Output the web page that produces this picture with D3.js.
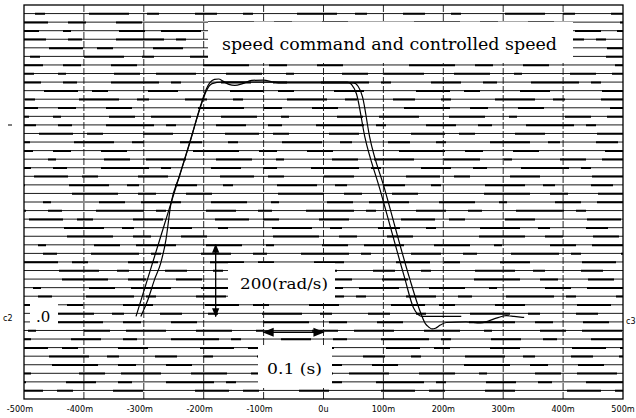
<!DOCTYPE html>
<html>
<head>
<meta charset="utf-8">
<script src="https://cdn.jsdelivr.net/npm/d3@7"></script>
<style>
  body { margin: 0; background: #fff; }
</style>
</head>
<body>
<div id="chart"></div>
<script>
const width = 636;
const height = 418;

// time axis in ms, labels as printed on the scope
const timeTicks = [-500, -400, -300, -200, -100, 0, 100, 200, 300, 400, 500];
const tickLabels = ["-500m", "-400m", "-300m", "-200m", "-100m", "0u", "100m", "200m", "300m", "400m", "500m"];

// speed command (rad/s) over time (ms)
const commandTime  = [-313, -290, -260, -240, -225, -205, -195, -186, -170, 40, 47, 55, 69, 94, 135, 150, 158, 165, 230];
const commandSpeed = [0, 124, 286, 394, 475, 585, 630, 648, 652, 652, 645, 620, 500, 355, 110, 25, 5, 0, 0];

// controlled speed (rad/s) over time (ms)
const controlTime  = [-305, -293, -282, -272, -263, -255, -240, -222, -205, -196, -190, -182, -175, -168, -158,
                      -148, -135, -120, -100, -85, -70, 0, 50, 58, 65, 77, 102, 143, 160, 170, 176, 181,
                      187, 195, 205, 238, 262, 275, 290, 305, 318, 335];
const controlSpeed = [0, 47, 103, 147, 214, 311, 393, 490, 588, 632, 650, 660, 661, 655, 646,
                      643, 648, 657, 658, 653, 650, 650, 650, 640, 612, 500, 355, 110, 20, -20, -30, -35,
                      -33, -24, -17, -15, -18, -13, -4, 2, 0, -3];

// number of scanned trace rows across the screen
const gridRowCount = 46;

const commandData = commandTime.map((t, i) => ({ t: t, v: commandSpeed[i] }));
const controlData = controlTime.map((t, i) => ({ t: t, v: controlSpeed[i] }));

const plot = { left: 24, right: 623, top: 5, bottom: 399 };

const x = d3.scaleLinear().domain([-500, 500]).range([plot.left, plot.right]);
const y = d3.scaleLinear().domain([-230, 867]).range([plot.bottom, plot.top]);
const row = d3.scaleLinear().domain([0, gridRowCount]).range([plot.top, plot.bottom]);

const svg = d3.select("#chart")
  .append("svg")
  .attr("width", width)
  .attr("height", height)
  .style("font-family", "'DejaVu Serif', serif");

const defs = svg.append("defs");
defs.append("marker")
  .attr("id", "arrow")
  .attr("viewBox", "0 0 10 10")
  .attr("refX", 9)
  .attr("refY", 5)
  .attr("markerWidth", 7)
  .attr("markerHeight", 7)
  .attr("orient", "auto-start-reverse")
  .append("path")
  .attr("d", "M0,1 L10,5 L0,9 Z")
  .attr("fill", "#000");

// horizontal scan rows (broken photocopy look)
const rows = d3.range(1, gridRowCount);
const dashSets = ["0,30,34,14,16,40,30,22", "22,26,10,44,40,18,12,36", "0,52,46,20,18,30,26,14",
                  "36,24,8,48,26,16,40,30", "10,40,30,22,14,34,48,12"];

svg.append("g")
  .selectAll("line")
  .data(rows)
  .join("line")
  .attr("x1", plot.left)
  .attr("x2", plot.right)
  .attr("y1", d => row(d))
  .attr("y2", d => row(d))
  .attr("stroke", "#000")
  .attr("stroke-width", 0.9);

svg.append("g")
  .selectAll("line")
  .data(rows)
  .join("line")
  .attr("x1", plot.left)
  .attr("x2", plot.right)
  .attr("y1", d => row(d) + 0.3)
  .attr("y2", d => row(d) + 0.3)
  .attr("stroke", "#000")
  .attr("stroke-width", 2)
  .attr("stroke-dasharray", d => dashSets[d % dashSets.length])
  .attr("stroke-dashoffset", d => (d * 37) % 90);

// vertical divisions
svg.append("g")
  .selectAll("line")
  .data(timeTicks.slice(1, -1))
  .join("line")
  .attr("x1", d => x(d))
  .attr("x2", d => x(d))
  .attr("y1", plot.top)
  .attr("y2", plot.bottom)
  .attr("stroke", "#111")
  .attr("stroke-width", 0.9)
  .attr("stroke-dasharray", "7,2");

// frame
svg.append("rect")
  .attr("x", plot.left)
  .attr("y", plot.top)
  .attr("width", plot.right - plot.left)
  .attr("height", plot.bottom - plot.top)
  .attr("fill", "none")
  .attr("stroke", "#000")
  .attr("stroke-width", 1.3);

// white label patches pasted over the screen
const patches = [
  { x: 208, y: 22, w: 365, h: 41 },
  { x: 228, y: 263, w: 107, h: 40 },
  { x: 258, y: 346, w: 74, h: 42 },
  { x: 30, y: 302, w: 28, h: 25 }
];
svg.append("g")
  .selectAll("rect")
  .data(patches)
  .join("rect")
  .attr("x", d => d.x)
  .attr("y", d => d.y)
  .attr("width", d => d.w)
  .attr("height", d => d.h)
  .attr("fill", "#fff");

svg.append("text")
  .attr("x", 222)
  .attr("y", 50)
  .attr("font-size", 16)
  .attr("textLength", 335)
  .attr("lengthAdjust", "spacingAndGlyphs")
  .text("speed command and controlled speed");

svg.append("text")
  .attr("x", 240)
  .attr("y", 289)
  .attr("font-size", 15)
  .attr("textLength", 88)
  .attr("lengthAdjust", "spacingAndGlyphs")
  .text("200(rad/s)");

svg.append("text")
  .attr("x", 267)
  .attr("y", 374)
  .attr("font-size", 15)
  .attr("textLength", 55)
  .attr("lengthAdjust", "spacingAndGlyphs")
  .text("0.1 (s)");

svg.append("text")
  .attr("x", 36)
  .attr("y", 322)
  .attr("font-size", 15)
  .text(".0");

// channel markers
svg.append("text")
  .attr("x", 3)
  .attr("y", 321)
  .attr("font-size", 8)
  .attr("font-family", "'DejaVu Sans', sans-serif")
  .text("c2");
svg.append("text")
  .attr("x", 626)
  .attr("y", 324)
  .attr("font-size", 8)
  .attr("font-family", "'DejaVu Sans', sans-serif")
  .text("c3");
svg.append("line")
  .attr("x1", 8).attr("x2", 12)
  .attr("y1", 125).attr("y2", 125)
  .attr("stroke", "#000");

// scale arrows: 200 rad/s and 0.1 s
svg.append("line")
  .attr("x1", x(-180))
  .attr("x2", x(-180))
  .attr("y1", y(0))
  .attr("y2", y(200))
  .attr("stroke", "#000")
  .attr("stroke-width", 1.3)
  .attr("marker-start", "url(#arrow)")
  .attr("marker-end", "url(#arrow)");

svg.append("line")
  .attr("x1", x(-100))
  .attr("x2", x(0))
  .attr("y1", y(-44))
  .attr("y2", y(-44))
  .attr("stroke", "#000")
  .attr("stroke-width", 1.6)
  .attr("marker-start", "url(#arrow)")
  .attr("marker-end", "url(#arrow)");

// traces
const line = d3.line()
  .x(d => x(d.t))
  .y(d => y(d.v))
  .curve(d3.curveMonotoneX);

svg.append("path")
  .datum(commandData)
  .attr("d", line)
  .attr("fill", "none")
  .attr("stroke", "#000")
  .attr("stroke-width", 1.2);

svg.append("path")
  .datum(controlData)
  .attr("d", line)
  .attr("fill", "none")
  .attr("stroke", "#000")
  .attr("stroke-width", 1.2);

// time labels under the screen
svg.append("g")
  .selectAll("text")
  .data(timeTicks)
  .join("text")
  .attr("x", d => x(d) - (d < 0 ? 4 : 0))
  .attr("y", 412)
  .attr("text-anchor", "middle")
  .attr("font-size", 9)
  .attr("font-family", "'DejaVu Sans Condensed', 'DejaVu Sans', sans-serif")
  .text((d, i) => tickLabels[i]);
</script>
</body>
</html>
